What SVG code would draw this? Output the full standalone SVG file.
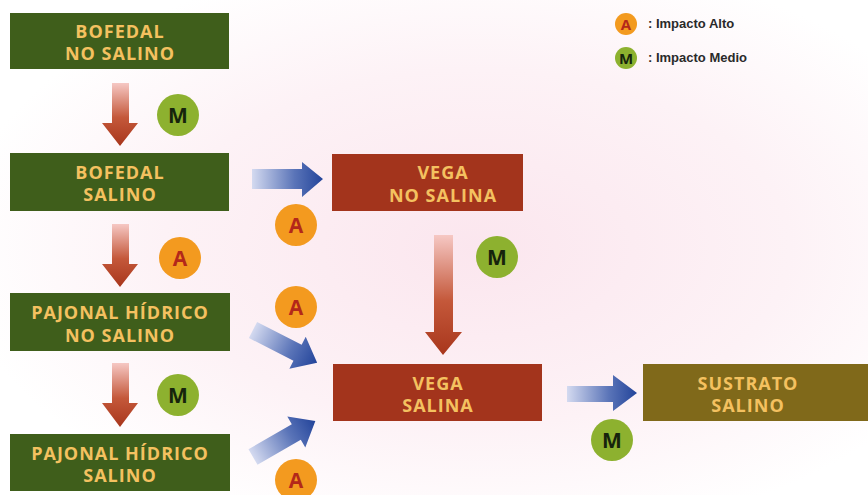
<svg xmlns="http://www.w3.org/2000/svg" width="868" height="495" viewBox="0 0 868 495">
<defs>
<radialGradient id="bg" cx="0.55" cy="0.5" r="0.6">
<stop offset="0" stop-color="#fbe6ee"/>
<stop offset="0.6" stop-color="#fdf2f6"/>
<stop offset="1" stop-color="#ffffff"/>
</radialGradient>
<linearGradient id="gdown" x1="0" y1="0" x2="0" y2="1">
<stop offset="0" stop-color="#f6c8c4"/>
<stop offset="0.55" stop-color="#c4583a"/>
<stop offset="1" stop-color="#a8361c"/>
</linearGradient>
<linearGradient id="gright" x1="0" y1="0" x2="1" y2="0">
<stop offset="0" stop-color="#d4daf0"/>
<stop offset="0.6" stop-color="#5a74b8"/>
<stop offset="1" stop-color="#23449a"/>
</linearGradient>
<style>
.g{fill:#3f5e1b}
.r{fill:#a3341c}
.o{fill:#80691a}
.t{font-family:"Open Sans","Liberation Sans",Arial,sans-serif;font-weight:bold;font-size:18px;letter-spacing:1px;fill:#f4c160;text-anchor:middle}
.ba{fill:#f39a1f}
.bm{fill:#8db12f}
.ta{font-family:"Open Sans","Liberation Sans",Arial,sans-serif;font-weight:bold;font-size:21px;fill:#b3281a;text-anchor:middle}
.tm{font-family:"Open Sans","Liberation Sans",Arial,sans-serif;font-weight:bold;font-size:21px;fill:#16240c;text-anchor:middle}
.lg{font-family:"Liberation Sans",Arial,sans-serif;font-weight:bold;font-size:13px;fill:#2a2a2a}
</style>
</defs>
<rect width="868" height="495" fill="url(#bg)"/>

<g id="connectors">
<path d="M112,83 H129 V123 H138 L120,146 L102,123 H112 Z" fill="url(#gdown)"/>
<path d="M112,224 H129 V264 H138 L120,287 L102,264 H112 Z" fill="url(#gdown)"/>
<path d="M112,363 H129 V403 H138 L120,427 L102,403 H112 Z" fill="url(#gdown)"/>
<path d="M434,235 H453 V332 H462 L443,355 L425,332 H434 Z" fill="url(#gdown)"/>
<path d="M252,169 H302 V162 L323,179 L302,197 V189 H252 Z" fill="url(#gright)"/>
<path d="M567,386 H613 V375 L637,393 L613,411 V402 H567 Z" fill="url(#gright)"/>
<g transform="translate(253,330) rotate(27)">
<path d="M0,-9 H50 V-18 L72,0 L50,18 V9 H0 Z" fill="url(#gright)"/>
</g>
<g transform="translate(253,457) rotate(-30)">
<path d="M0,-9 H50 V-18 L72,0 L50,18 V9 H0 Z" fill="url(#gright)"/>
</g>
</g>

<g id="bofedal-no-salino">
<rect class="g" x="10" y="13" width="219" height="56"/>
<text class="t" x="120" y="38">BOFEDAL</text>
<text class="t" x="120" y="60">NO SALINO</text>
</g>
<g id="bofedal-salino">
<rect class="g" x="10" y="153" width="219" height="58"/>
<text class="t" x="120" y="179">BOFEDAL</text>
<text class="t" x="120" y="201">SALINO</text>
</g>
<g id="pajonal-no-salino">
<rect class="g" x="10" y="293" width="220" height="58"/>
<text class="t" x="120" y="319">PAJONAL HÍDRICO</text>
<text class="t" x="120" y="342">NO SALINO</text>
</g>
<g id="pajonal-salino">
<rect class="g" x="10" y="434" width="220" height="57"/>
<text class="t" x="120" y="460">PAJONAL HÍDRICO</text>
<text class="t" x="120" y="482">SALINO</text>
</g>
<g id="vega-no-salina">
<rect class="r" x="332" y="154" width="191" height="57"/>
<text class="t" x="443" y="179">VEGA</text>
<text class="t" x="443" y="202">NO SALINA</text>
</g>
<g id="vega-salina">
<rect class="r" x="333" y="364" width="209" height="57"/>
<text class="t" x="438" y="390">VEGA</text>
<text class="t" x="438" y="412">SALINA</text>
</g>
<g id="sustrato-salino">
<rect class="o" x="643" y="364" width="225" height="57"/>
<text class="t" x="748" y="390">SUSTRATO</text>
<text class="t" x="748" y="412">SALINO</text>
</g>

<g id="badges">
<circle class="bm" cx="178" cy="115" r="21"/><text class="tm" x="178" y="123">M</text>
<circle class="ba" cx="180" cy="258" r="21"/><text class="ta" x="180" y="266">A</text>
<circle class="bm" cx="178" cy="395" r="21"/><text class="tm" x="178" y="403">M</text>
<circle class="ba" cx="296" cy="225" r="21"/><text class="ta" x="296" y="233">A</text>
<circle class="ba" cx="296" cy="307" r="21"/><text class="ta" x="296" y="315">A</text>
<circle class="ba" cx="296" cy="480" r="21"/><text class="ta" x="296" y="488">A</text>
<circle class="bm" cx="497" cy="257" r="21"/><text class="tm" x="497" y="265">M</text>
<circle class="bm" cx="612" cy="440" r="21"/><text class="tm" x="612" y="448">M</text>
</g>

<g id="legend">
<circle class="ba" cx="626" cy="24" r="11"/>
<text class="ta" x="626" y="29.5" style="font-size:15px">A</text>
<text class="lg" x="648" y="28">: Impacto Alto</text>
<circle class="bm" cx="626" cy="58" r="11"/>
<text class="tm" x="626" y="63.5" style="font-size:15px">M</text>
<text class="lg" x="648" y="62">: Impacto Medio</text>
</g>
</svg>
